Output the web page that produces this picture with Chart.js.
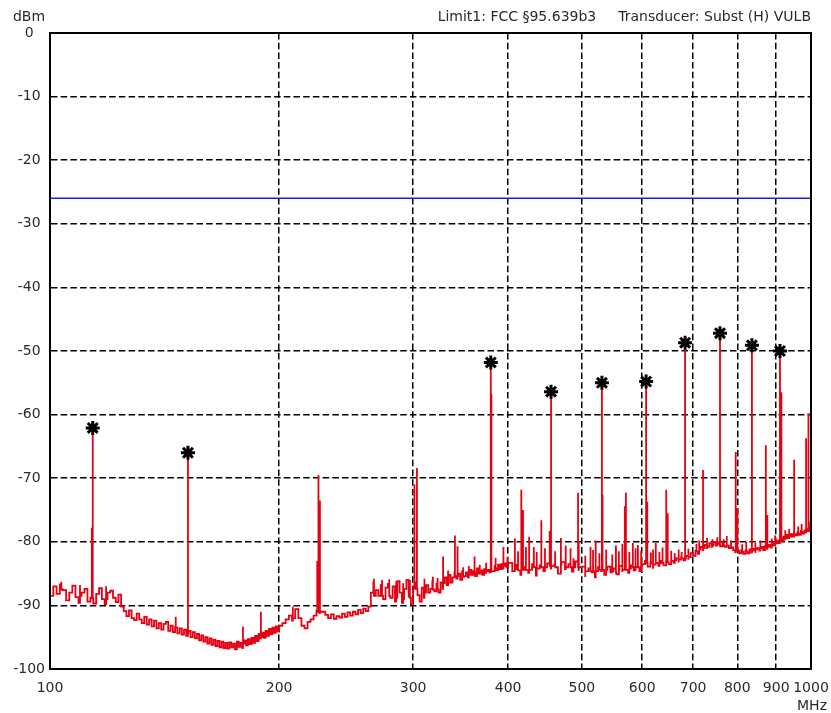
<!DOCTYPE html>
<html>
<head>
<meta charset="utf-8">
<script src="https://cdn.jsdelivr.net/npm/chart.js@4/dist/chart.umd.min.js"></script>
<style>
  html, body { margin: 0; padding: 0; background: #fff; }
  #wrap { width: 831px; height: 713px; position: relative; }
</style>
</head>
<body>
<div id="wrap"><canvas id="chart"></canvas></div>
<script>
// Noise floor of the sweep, MHz / dBm
const floorFreqs = [
  100,101,102,103,104,105,106,107,108,109,
  110,111,112,113,114,115,116,117,118,119,
  120,121,122,123,124,125,126,127,128,129,
  130,131,132,133,134,135,136,137,138,139,
  140,141,142,143,144,145,146,147,148,149,
  150,151,152,153,154,155,156,157,158,159,
  160,161,162,163,164,165,166,167,168,169,
  170,171,172,173,174,175,176,177,178,179,
  180,181,182,183,184,185,186,187,188,189,
  190,191,192,193,194,195,196,197,198,199,
  200,
  202,204,206,208,210,212,214,216,218,220,
  222,224,226,228,230,232,234,236,238,240,
  242,244,246,248,250,252,254,256,258,260,
  262,264,266,268,270,272,274,276,278,280,
  282,284,286,288,290,292,294,296,298,300,
  302,304,306,308,310,312,314,316,318,320,
  322,324,326,328,330,332,334,336,338,340,
  342,344,346,348,350,352,354,356,358,360,
  362,364,366,368,370,372,374,376,378,380,
  382,384,386,388,390,392,394,396,398,400,
  405,410,415,420,425,430,435,440,445,450,
  455,460,465,470,475,480,485,490,495,500,
  505,510,515,520,525,530,535,540,545,550,
  555,560,565,570,575,580,585,590,595,600,
  605,610,615,620,625,630,635,640,645,650,
  655,660,665,670,675,680,685,690,695,700,
  705,710,715,720,725,730,735,740,745,750,
  755,760,765,770,775,780,785,790,795,800,
  805,810,815,820,825,830,835,840,845,850,
  855,860,865,870,875,880,885,890,895,900,
  905,910,915,920,925,930,935,940,945,950,
  955,960,965,970,975,980,985,990,995,1000
];
const floorLevels = [
  -88.5,-87.0,-88.2,-86.7,-87.6,-89.2,-88.0,-86.9,-88.7,-89.6,
  -88.0,-87.4,-89.4,-88.8,-89.7,-88.2,-87.3,-89.0,-89.8,-88.0,
  -87.7,-88.8,-89.5,-88.3,-90.2,-90.9,-91.7,-90.8,-92.0,-92.3,
  -91.3,-92.2,-92.8,-91.8,-93.0,-92.2,-93.3,-92.4,-93.6,-92.8,
  -93.8,-92.9,-92.6,-94.0,-93.2,-94.2,-93.4,-94.4,-93.6,-94.6,
  -93.8,-94.8,-94.0,-95.0,-94.2,-95.2,-94.5,-95.5,-94.7,-95.7,
  -95.0,-96.0,-95.2,-96.2,-95.4,-96.4,-95.6,-96.6,-95.7,-96.7,
  -95.9,-96.8,-95.8,-96.6,-96.0,-96.9,-95.7,-96.5,-95.9,-96.7,
  -95.5,-96.3,-95.3,-96.1,-95.1,-95.9,-94.8,-95.6,-94.5,-95.2,
  -94.3,-95.1,-94.0,-94.8,-93.7,-94.5,-93.5,-94.3,-93.3,-94.1,
  -93.2,
  -92.8,-92.2,-91.6,-92.4,-90.6,-92.0,-93.2,-93.6,-92.6,-92.2,
  -91.6,-90.8,-91.2,-91.0,-91.5,-92.0,-91.4,-92.1,-91.7,-91.9,
  -91.3,-91.8,-91.1,-91.6,-91.0,-91.4,-90.7,-91.2,-90.5,-90.9,
  -90.2,-88.0,-86.4,-87.6,-88.5,-86.8,-89.0,-87.2,-86.6,-88.8,
  -87.0,-89.4,-86.2,-88.0,-89.6,-87.4,-86.0,-88.6,-89.8,-87.0,
  -86.4,-88.4,-89.4,-87.2,-88.8,-86.8,-88.0,-87.4,-86.2,-87.8,
  -86.6,-88.0,-86.4,-87.4,-85.6,-86.8,-85.2,-86.4,-85.6,-84.8,
  -85.8,-85.0,-86.0,-84.6,-85.4,-84.8,-85.6,-84.4,-85.2,-84.6,
  -85.4,-84.2,-85.0,-84.5,-85.2,-84.3,-84.9,-84.4,-84.8,-84.0,
  -84.6,-83.8,-84.5,-83.6,-84.3,-83.5,-84.2,-83.4,-84.0,-83.3,
  -84.6,-83.6,-85.2,-84.0,-84.9,-83.5,-85.3,-83.7,-84.6,-83.4,
  -84.2,-83.6,-85.0,-83.2,-84.3,-83.5,-84.7,-83.1,-84.4,-83.9,
  -85.4,-84.2,-84.8,-85.6,-84.0,-84.6,-85.2,-83.9,-84.8,-84.2,
  -85.1,-83.8,-84.6,-84.1,-84.9,-83.7,-84.5,-83.9,-84.6,-83.5,
  -83.0,-83.9,-83.2,-84.1,-83.4,-83.8,-83.0,-83.7,-83.1,-83.5,
  -82.8,-83.3,-82.6,-83.1,-82.4,-82.9,-82.2,-82.7,-81.8,-82.2,
  -81.4,-81.9,-80.8,-81.3,-80.5,-81.0,-80.2,-80.8,-80.0,-80.6,
  -80.1,-80.7,-80.2,-80.8,-80.4,-81.0,-80.6,-81.3,-81.6,-81.2,
  -81.8,-81.3,-81.9,-81.4,-81.8,-81.2,-81.7,-81.1,-81.6,-81.0,
  -81.4,-80.8,-81.3,-80.7,-81.1,-80.5,-80.9,-80.3,-80.6,-79.8,
  -80.2,-79.4,-79.9,-79.2,-79.6,-78.9,-79.4,-78.8,-79.2,-78.6,
  -79.0,-78.5,-78.9,-78.3,-78.7,-78.2,-78.5,-78.0,-78.3,-77.9
];

// Narrow carriers / spurs: frequency, top level, floor under them
const spikeFreqs = [
  113.5,113.8,146.3,151.8,179.3,189.3,208.5,224.5,225.3,226.3,
  301.2,303.5,328.5,340.5,343.2,361.3,374.2,379.5,380.2,394.3,
  408.2,416.2,418.4,426.2,432.3,442.2,453.5,455.4,469.2,487.3,
  494.2,495.3,513.2,521.3,531.2,532.2,554.2,569.3,571.2,583.3,
  592.3,607.2,609.3,625.2,645.3,648.2,683.2,721.3,759.3,796.3,
  800.4,836.3,872.3,876.3,910.3,914.3,950.3,985.3,992.3
];
const spikePeaks = [
  -77.8,-62.1,-91.8,-66.0,-93.3,-91.0,-90.2,-83.0,-69.5,-73.5,
  -71.0,-68.4,-82.3,-79.0,-80.7,-82.3,-83.3,-51.8,-56.8,-80.8,
  -79.5,-71.8,-75.0,-79.2,-80.8,-76.6,-78.3,-56.4,-79.4,-82.6,
  -72.3,-80.0,-80.8,-79.8,-55.0,-72.6,-80.6,-74.4,-72.3,-80.2,
  -80.5,-54.8,-73.7,-80.2,-71.8,-75.5,-48.7,-68.7,-47.2,-65.9,
  -74.7,-49.1,-64.8,-75.8,-50.0,-56.5,-67.1,-63.7,-59.8
];
const spikeBases = [
  -88.9,-88.9,-93.5,-94.3,-96.0,-95.0,-92.0,-91.0,-91.0,-91.0,
  -87.4,-87.4,-86.5,-85.4,-85.4,-84.8,-84.6,-84.6,-84.6,-83.8,
  -84.3,-84.4,-84.4,-84.4,-84.0,-84.0,-83.8,-83.8,-83.6,-84.0,
  -84.0,-84.0,-84.6,-84.6,-84.4,-84.4,-84.8,-84.4,-84.4,-84.0,
  -84.0,-83.4,-83.4,-83.3,-83.2,-83.2,-82.6,-81.0,-80.6,-81.4,
  -81.4,-81.4,-80.8,-80.8,-79.6,-79.6,-78.8,-78.3,-78.2
];

// Small noise spurs riding on the floor
const spurFreqs = [
  103.5,109.5,118.5,266.5,273.1,279.1,285.1,291.1,297.1,310.5,
  318.5,323.1,333.5,349.1,355.1,367.1,385.1,399.1,412.1,422.1,
  436.1,447.1,461.1,476.1,483.1,505.1,517.1,527.1,538.1,548.1,
  559.1,565.1,577.1,588.1,598.1,616.1,620.1,632.1,638.1,655.1,
  662.1,670.1,676.1,690.1,707.1,713.1,730.1,742.1,753.1,768.1,
  775.1,785.1,812.1,822.1,845.1,858.1,888.1,897.1,925.1,936.1,
  962.1,972.1,998.1
];
const spurPeaks = [
  -86.3,-86.8,-87.0,-85.8,-86.0,-85.9,-86.2,-86.5,-86.0,-85.8,
  -85.5,-85.7,-84.5,-84.0,-83.8,-83.6,-82.5,-82.4,-81.5,-80.8,
  -81.6,-81.0,-81.5,-80.6,-81.0,-82.2,-81.3,-81.8,-81.2,-82.0,
  -81.5,-80.3,-81.6,-81.0,-81.4,-81.7,-81.2,-81.6,-80.9,-81.4,
  -81.8,-81.2,-81.6,-81.1,-80.3,-79.8,-79.4,-79.6,-79.3,-79.6,
  -79.1,-79.8,-80.4,-80.0,-80.2,-79.8,-79.5,-79.0,-78.2,-78.0,
  -77.6,-77.2,-76.8
];
const spurBases = [
  -87.5,-88.5,-89.0,-88.5,-88.5,-88.5,-88.8,-89.0,-88.8,-88.0,
  -87.5,-87.5,-86.5,-85.5,-85.2,-85.0,-84.2,-84.0,-84.5,-84.4,
  -84.2,-84.0,-84.0,-84.0,-84.0,-84.6,-84.6,-84.4,-84.4,-84.6,
  -84.4,-84.4,-84.2,-84.0,-83.8,-83.4,-83.6,-83.4,-83.3,-83.0,
  -82.9,-82.8,-82.6,-82.4,-81.5,-81.2,-80.8,-80.5,-80.4,-80.6,
  -80.6,-80.9,-81.6,-81.5,-81.2,-81.0,-80.6,-80.3,-79.4,-79.2,
  -78.7,-78.5,-78.1
];

// Peak markers (asterisks)
const markerFreqs = [113.8, 151.8, 379.5, 455.4, 531.2, 607.2, 683.2, 759.3, 836.3, 910.3];
const markerLevels = [-62.1, -66.0, -51.8, -56.4, -55.0, -54.8, -48.7, -47.2, -49.1, -50.0];

const limitLevel = -26;
const xTicks = [100, 200, 300, 400, 500, 600, 700, 800, 900, 1000];
const yMin = -100, yMax = 0, yStep = 10;

const FONT = { family: "'DejaVu Sans', sans-serif", size: 14 };
const TEXT = '#2a2a2a';

// floor points plus each spike/spur as a vertical line (base -> top -> base)
const trace = floorFreqs.map((f, i) => ({ x: f, y: floorLevels[i] }));
function addLines(freqs, peaks, bases) {
  freqs.forEach((f, i) => {
    trace.push({ x: f, y: bases[i] }, { x: f, y: peaks[i] }, { x: f, y: bases[i] });
  });
}
addLines(spikeFreqs, spikePeaks, spikeBases);
addLines(spurFreqs, spurPeaks, spurBases);
trace.sort((a, b) => a.x - b.x);

// frame + free-standing labels (unit, header, MHz)
const decorations = {
  id: 'decorations',
  afterDraw(chart) {
    const { ctx, chartArea: a } = chart;
    ctx.save();
    ctx.strokeStyle = '#000';
    ctx.lineWidth = 2;
    ctx.strokeRect(a.left, a.top, a.right - a.left, a.bottom - a.top);
    ctx.fillStyle = TEXT;
    ctx.font = `${FONT.size}px ${FONT.family}`;
    ctx.textBaseline = 'middle';
    ctx.textAlign = 'center';
    ctx.fillText('dBm', 29, 17);
    ctx.fillText('MHz', a.right + 1, 706);
    ctx.textAlign = 'right';
    const right = 'Transducer: Subst (H) VULB';
    ctx.fillText(right, a.right, 17);
    ctx.fillText('Limit1: FCC §95.639b3', a.right - ctx.measureText(right).width - 22, 17);
    ctx.restore();
  }
};

new Chart(document.getElementById('chart'), {
  type: 'line',
  data: {
    datasets: [
      {
        data: markerFreqs.map((f, i) => ({ x: f, y: markerLevels[i] })),
        showLine: false,
        pointStyle: 'star',
        pointRadius: 7,
        pointBorderWidth: 3,
        pointBorderColor: '#000',
        pointBackgroundColor: '#000',
        order: 0
      },
      {
        data: trace,
        borderColor: '#e60012',
        borderWidth: 1.8,
        pointRadius: 0,
        stepped: true,
        order: 1
      },
      {
        data: [{ x: xTicks[0], y: limitLevel }, { x: xTicks[xTicks.length - 1], y: limitLevel }],
        borderColor: '#1a1aff',
        borderWidth: 1.5,
        pointRadius: 0,
        order: 2
      }
    ]
  },
  options: {
    responsive: true,
    maintainAspectRatio: false,
    animation: false,
    devicePixelRatio: 1,
    parsing: false,
    layout: { padding: { top: 33, right: 20, left: 0, bottom: 0 } },
    plugins: { legend: { display: false }, tooltip: { enabled: false } },
    scales: {
      x: {
        type: 'logarithmic',
        min: xTicks[0],
        max: xTicks[xTicks.length - 1],
        afterBuildTicks: (s) => { s.ticks = xTicks.map((v) => ({ value: v })); },
        // fixed axis height, and no extra room for the end labels
        afterFit: (s) => { s.height = 44; s.paddingLeft = 0; s.paddingRight = 0; },
        ticks: {
          autoSkip: false, maxRotation: 0, padding: 11,
          color: TEXT, font: FONT,
          callback: (v) => String(v)
        },
        grid: { color: '#000', lineWidth: 1.5, drawTicks: false },
        border: { color: '#000', width: 2, dash: [6.5, 3.2] }
      },
      y: {
        min: yMin,
        max: yMax,
        afterFit: (s) => { s.width = 50; },
        ticks: { stepSize: yStep, padding: 5, crossAlign: 'center', color: TEXT, font: FONT },
        grid: { color: '#000', lineWidth: 1.5, drawTicks: false },
        border: { color: '#000', width: 2, dash: [6.5, 3.2] }
      }
    }
  },
  plugins: [decorations]
});
</script>
</body>
</html>
